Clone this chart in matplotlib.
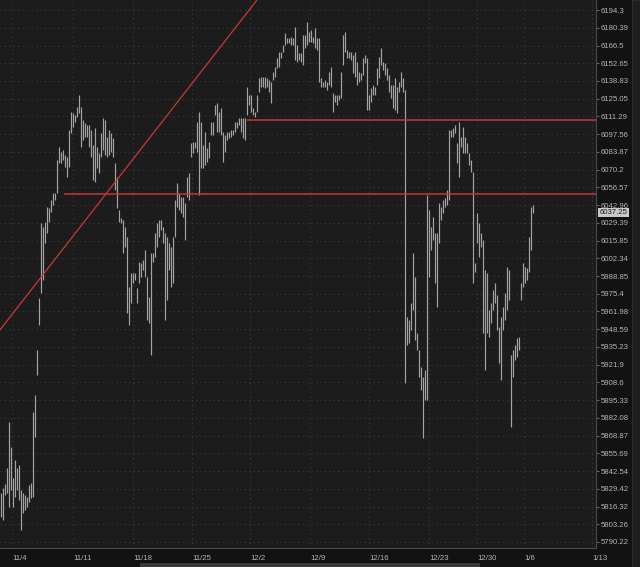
import matplotlib.pyplot as plt
import matplotlib.transforms as mtransforms
from matplotlib.ticker import NullLocator
from matplotlib.patches import Rectangle

# hourly-ish bars, high / low
highs = [
    5826.5, 5830.2, 5833.2, 5845.0, 5879.2, 5860.6, 5837.6, 5850.9, 5845.0, 5847.2,
    5828.8, 5826.5, 5825.1, 5823.6, 5832.4, 5833.9, 5886.6, 5899.3, 5933.0, 5972.2,
    6029.3, 6026.2, 6030.0, 6041.5, 6040.7, 6046.9, 6052.2, 6052.2, 6077.6, 6087.6,
    6083.8, 6085.3, 6081.5, 6080.0, 6100.8, 6114.7, 6113.9, 6112.4, 6118.6, 6127.9,
    6118.6, 6108.5, 6106.2, 6104.6, 6104.6, 6100.8, 6089.2, 6102.3, 6087.6, 6083.0,
    6098.5, 6110.1, 6108.5, 6095.4, 6100.8, 6098.5, 6094.6, 6075.3, 6064.5, 6039.2,
    6033.1, 6031.6, 6026.2, 6018.6, 5980.6, 5991.2, 5991.2, 5991.2, 5979.8, 5999.5,
    5998.8, 6001.1, 6008.7, 5988.1, 5973.0, 6006.4, 6006.4, 6021.6, 6029.3, 6031.6,
    6031.6, 6026.2, 6021.6, 6018.6, 6014.0, 6011.0, 6018.6, 6046.9, 6059.9, 6052.2,
    6049.2, 6049.2, 6044.6, 6064.5, 6067.6, 6090.7, 6091.5, 6091.5, 6107.0, 6114.7,
    6107.0, 6089.2, 6099.2, 6086.9, 6091.5, 6107.0, 6107.0, 6120.1, 6121.7, 6114.7,
    6117.8, 6099.2, 6097.0, 6099.2, 6099.2, 6100.8, 6100.8, 6107.0, 6107.0, 6110.1,
    6110.1, 6110.1, 6110.1, 6134.1, 6127.9, 6127.9, 6117.8, 6114.7, 6127.9, 6141.1,
    6141.9, 6141.9, 6141.9, 6141.1, 6139.6, 6138.0, 6145.8, 6149.7, 6156.7, 6161.4,
    6161.4, 6166.9, 6176.3, 6172.4, 6172.4, 6173.1, 6172.4, 6181.0, 6166.9, 6160.6,
    6160.6, 6174.7, 6174.7, 6184.9, 6177.0, 6178.6, 6173.1, 6180.2, 6172.4, 6172.4,
    6141.1, 6138.0, 6139.6, 6138.0, 6145.8, 6149.7, 6129.4, 6127.9, 6127.9, 6127.9,
    6145.8, 6174.7, 6177.0, 6163.0, 6161.4, 6161.4, 6159.0, 6161.4, 6153.6, 6145.8,
    6145.0, 6156.7, 6159.0, 6156.7, 6127.9, 6133.3, 6135.7, 6134.1, 6148.9, 6157.5,
    6164.5, 6153.6, 6152.8, 6148.9, 6143.5, 6135.7, 6135.7, 6141.1, 6134.1, 6138.0,
    6145.8, 6141.1, 6131.8, 5957.9, 5955.6, 5968.4, 6006.4, 5988.1, 5945.8, 5933.0,
    5920.2, 5912.8, 5918.0, 6050.7, 6039.2, 6026.2, 6033.9, 6021.6, 6021.6, 6044.6,
    6041.5, 6046.9, 6048.4, 6054.5, 6100.8, 6100.8, 6102.3, 6104.6, 6090.7, 6107.0,
    6095.4, 6103.1, 6095.4, 6090.7, 6083.0, 6077.6, 6068.4, 5998.8, 6036.9, 6029.3,
    6021.6, 6016.3, 5993.5, 5991.2, 5963.2, 5968.4, 5978.3, 5983.6, 5974.5, 5950.3,
    5957.9, 5965.4, 5976.0, 5995.7, 5993.5, 5929.3, 5933.0, 5936.8, 5942.0, 5942.8,
    5983.6, 5998.8, 5995.7, 5995.0, 6018.6, 6041.5, 6043.0,
]
lows = [
    5808.9, 5806.7, 5825.1, 5826.5, 5816.2, 5828.8, 5816.2, 5823.6, 5828.8, 5821.4,
    5799.3, 5811.8, 5814.0, 5816.2, 5819.9, 5822.9, 5823.6, 5868.0, 5914.3, 5951.8,
    5976.0, 5985.9, 6014.0, 6021.6, 6030.0, 6037.7, 6043.0, 6046.9, 6052.2, 6075.3,
    6075.3, 6077.6, 6072.2, 6064.5, 6072.2, 6098.5, 6103.1, 6107.0, 6110.8, 6113.9,
    6087.6, 6093.0, 6095.4, 6095.4, 6087.6, 6080.0, 6062.2, 6060.7, 6071.4, 6067.6,
    6080.0, 6085.3, 6081.5, 6080.0, 6081.5, 6083.8, 6080.0, 6054.5, 6040.7, 6030.0,
    6029.3, 6006.4, 6011.0, 5960.9, 5951.8, 5968.4, 5983.6, 5985.9, 5968.4, 5983.6,
    5988.1, 5993.5, 5988.1, 5955.6, 5953.3, 5929.3, 5999.5, 6003.3, 6011.0, 6018.6,
    6023.9, 6014.0, 5955.6, 5970.7, 5993.5, 5980.6, 5983.6, 6018.6, 6041.5, 6039.2,
    6036.9, 6034.2, 6016.3, 6049.2, 6046.9, 6080.0, 6083.0, 6086.9, 6083.8, 6050.7,
    6071.4, 6071.4, 6073.8, 6076.1, 6079.1, 6097.0, 6097.0, 6112.4, 6099.2, 6099.2,
    6097.0, 6076.1, 6083.8, 6093.0, 6094.6, 6095.4, 6097.0, 6099.2, 6102.3, 6104.6,
    6099.2, 6094.6, 6093.0, 6112.4, 6120.1, 6114.7, 6112.4, 6110.8, 6114.7, 6130.2,
    6134.1, 6134.1, 6133.3, 6134.1, 6130.2, 6121.7, 6139.6, 6141.9, 6148.9, 6149.7,
    6156.7, 6161.4, 6166.9, 6168.4, 6168.4, 6166.9, 6166.9, 6155.2, 6153.6, 6155.2,
    6153.6, 6151.2, 6164.5, 6166.9, 6169.2, 6169.2, 6168.4, 6164.5, 6163.0, 6138.0,
    6134.1, 6134.1, 6134.1, 6131.8, 6135.7, 6134.1, 6114.7, 6122.5, 6120.1, 6124.0,
    6125.6, 6151.2, 6161.4, 6156.7, 6156.7, 6155.2, 6145.0, 6141.9, 6135.7, 6138.0,
    6139.6, 6143.5, 6152.8, 6116.3, 6116.3, 6122.5, 6127.9, 6127.9, 6135.7, 6141.1,
    6151.2, 6147.4, 6143.5, 6139.6, 6130.2, 6125.6, 6117.8, 6116.3, 6113.9, 6130.2,
    6134.1, 6130.2, 5908.3, 5936.8, 5938.3, 5948.1, 5963.2, 5940.5, 5933.0, 5912.8,
    5903.0, 5867.3, 5895.6, 5895.6, 5988.1, 6008.7, 6016.3, 5983.6, 5965.4, 6014.0,
    6031.6, 6036.9, 6041.5, 6043.0, 6046.9, 6095.4, 6095.4, 6098.5, 6075.3, 6064.5,
    6087.6, 6083.0, 6083.0, 6083.0, 6073.8, 6068.4, 5983.6, 5992.0, 6014.0, 6003.3,
    6011.0, 5945.8, 5918.0, 5945.8, 5942.8, 5953.3, 5963.2, 5968.4, 5948.1, 5923.3,
    5910.5, 5948.1, 5955.6, 5963.2, 5970.7, 5875.4, 5912.8, 5925.5, 5927.8, 5933.0,
    5970.7, 5980.6, 5983.6, 5985.9, 5992.0, 6008.7, 6036.9,
]
last_price = 6037.25

price_levels = [6194.3, 6180.39, 6166.5, 6152.65, 6138.83, 6125.05, 6111.29, 6097.56,
                6083.87, 6070.2, 6056.57, 6042.96, 6029.39, 6015.85, 6002.34, 5988.85,
                5975.4, 5961.98, 5948.59, 5935.23, 5921.9, 5908.6, 5895.33, 5882.08,
                5868.87, 5855.69, 5842.54, 5829.42, 5816.32, 5803.26, 5790.22]
date_labels = ["11/4", "11/11", "11/18", "11/25", "12/2", "12/9", "12/16",
               "12/23", "12/30", "1/6", "1/13"]
date_bars = [5.5, 36, 66, 95.5, 124.5, 154.5, 184, 214, 238, 261.5, 295.5]

# drawn lines: (price, first bar)
hlines = [(6108.5, 123), (6051.5, 31.5)]
trend = [(-0.5, 5948.1), (128, 6202.2)]

BG = "#1c1c1c"
PANEL = "#121212"
GRID = "#3c3c3c"
TXT = "#b4b4b4"
RED = "#c8373a"

fig = plt.figure(figsize=(6.4, 5.67), dpi=100, facecolor=PANEL)
ax = fig.add_axes([0, 19 / 567, 596 / 640, 548 / 567])
ax.set_facecolor(BG)

idx = list(range(len(highs)))
ax.vlines(idx, lows, highs, color="#a4a4a4", linewidth=0.85)

for price, start in hlines:
    ax.hlines(price, start, 297.5, color=RED, linewidth=1.1)
ax.plot([p[0] for p in trend], [p[1] for p in trend], color=RED, linewidth=0.9)

ax.set_yscale("log")
ax.set_ylim(5785.8, 6202.2)
ax.set_xlim(-0.5, 297.5)

ax.set_yticks(price_levels, labels=[format(v, "g") for v in price_levels])
ax.yaxis.set_minor_locator(NullLocator())
ax.yaxis.tick_right()
ax.set_xticks(date_bars, labels=date_labels)
for lbl in ax.get_xticklabels():
    lbl.set_horizontalalignment("left")

ax.grid(True, color=GRID, linestyle=(0, (1, 3)), linewidth=0.8)
ax.tick_params(axis="y", length=2, color="#666666", labelsize=5.6,
               labelcolor=TXT, pad=1.5)
ax.tick_params(axis="x", length=0, labelsize=5.6, labelcolor=TXT, pad=5)
for s in ["top", "left"]:
    ax.spines[s].set_visible(False)
for s in ["right", "bottom"]:
    ax.spines[s].set_color("#4a4a4a")

for t in ax.get_yticklabels() + ax.get_xticklabels():
    t.set_family("Liberation Sans")

# last price tag
tr = mtransforms.blended_transform_factory(ax.transAxes, ax.transData)
ax.text(1.006, last_price, f"{last_price:.2f}", transform=tr, fontsize=5.6,
        family="Liberation Sans", color="#1e1e1e", va="center", ha="left",
        bbox=dict(boxstyle="square,pad=0.15", fc="#c9c9c9", ec="none"),
        clip_on=False)

# right edge strip and scrollbar
fig.patches.append(Rectangle((632 / 640, 0), 8 / 640, 1, transform=fig.transFigure,
                             facecolor="#1e1e1e", edgecolor="#2c2c2c", linewidth=0.8))
fig.patches.append(Rectangle((140 / 640, 0), 340 / 640, 4 / 567,
                             transform=fig.transFigure, facecolor="#3a3a3a",
                             edgecolor="none"))

fig.savefig("out.png", dpi=100, facecolor=PANEL)
